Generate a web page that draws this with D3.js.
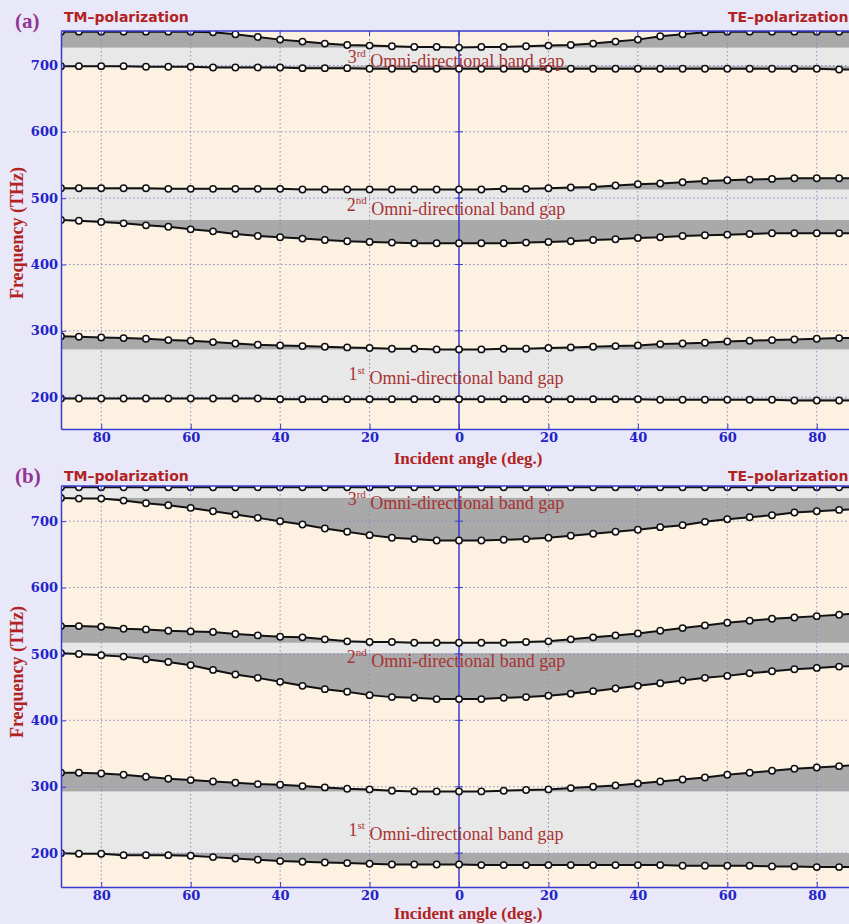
<!DOCTYPE html>
<html>
<head>
<meta charset="utf-8">
<script src="https://cdn.jsdelivr.net/npm/d3@7/dist/d3.min.js"></script>
<style>
	body { margin: 0; background: #e8e8f8; }
	svg { display: block; }
</style>
</head>
<body>
<div class="chart"></div>
<script>
// incident angle, TM side negative (drawn left), TE side positive
const angles = [-89, -85, -80, -75, -70, -65, -60, -55, -50, -45, -40, -35, -30, -25, -20, -15, -10, -5, 0,
	5, 10, 15, 20, 25, 30, 35, 40, 45, 50, 55, 60, 65, 70, 75, 80, 85, 89];

const xTicks = [-80, -60, -40, -20, 0, 20, 40, 60, 80];
const yTicks = [200, 300, 400, 500, 600, 700];
const gapNames = [["1", "st"], ["2", "nd"], ["3", "rd"]];

// panel (a) band edges (THz)
const aGap1Low = [198, 198, 198, 198, 198, 198, 198, 198, 198, 198, 197, 197, 197, 197, 197, 197, 197, 197, 197,
	197, 197, 197, 197, 197, 197, 197, 197, 196, 196, 196, 196, 196, 196, 195, 195, 195, 195];
const aGap1High = [292, 291, 290, 289, 288, 286, 285, 283, 281, 279, 278, 277, 276, 275, 274, 273, 273, 272, 272,
	272, 273, 273, 274, 275, 276, 277, 278, 280, 281, 282, 284, 285, 286, 287, 288, 289, 289];
const aGap2Low = [467, 466, 464, 462, 459, 457, 453, 450, 446, 443, 441, 439, 437, 435, 434, 433, 432, 432, 432,
	432, 432, 433, 434, 435, 437, 438, 440, 441, 443, 444, 445, 446, 447, 447, 447, 447, 447];
const aGap2High = [515, 515, 515, 515, 515, 514, 514, 514, 514, 514, 514, 513, 513, 513, 513, 513, 513, 513, 513,
	513, 514, 514, 515, 516, 517, 519, 521, 522, 524, 526, 527, 528, 529, 530, 530, 530, 530];
const aGap3Low = [699, 699, 699, 699, 698, 698, 698, 697, 697, 697, 697, 696, 696, 696, 695, 695, 695, 695, 695,
	695, 695, 695, 695, 695, 695, 695, 695, 695, 695, 695, 695, 695, 695, 695, 695, 694, 694];
const aGap3High = [751, 751, 751, 751, 751, 751, 751, 750, 747, 743, 739, 736, 733, 731, 730, 729, 728, 728, 727,
	728, 728, 729, 730, 731, 733, 736, 739, 744, 747, 750, 751, 751, 751, 751, 751, 751, 751];
const aLabelFreqs = [235, 490, 713];

// panel (b) band edges (THz)
const bGap1Low = [200, 199, 199, 197, 197, 197, 196, 194, 192, 190, 188, 187, 186, 185, 184, 183, 183, 183, 183,
	182, 182, 182, 182, 182, 182, 182, 182, 182, 181, 181, 181, 181, 180, 180, 179, 179, 179];
const bGap1High = [321, 321, 320, 318, 315, 312, 310, 308, 306, 304, 303, 301, 299, 297, 296, 294, 293, 293, 293,
	293, 294, 295, 296, 298, 300, 302, 305, 308, 311, 314, 318, 321, 324, 327, 329, 331, 333];
const bGap2Low = [501, 500, 498, 496, 492, 488, 483, 476, 469, 464, 458, 452, 447, 443, 438, 435, 434, 432, 432,
	432, 434, 435, 437, 440, 444, 448, 452, 456, 460, 464, 467, 471, 474, 477, 479, 481, 482];
const bGap2High = [542, 542, 541, 538, 537, 535, 534, 533, 530, 528, 526, 525, 522, 519, 518, 518, 517, 517, 517,
	517, 517, 518, 519, 522, 525, 528, 531, 535, 539, 543, 547, 550, 553, 555, 557, 559, 561];
const bGap3Low = [735, 734, 734, 731, 727, 724, 720, 715, 710, 705, 700, 695, 689, 684, 679, 675, 673, 671, 671,
	671, 672, 673, 675, 678, 681, 684, 687, 691, 694, 699, 703, 706, 709, 713, 715, 717, 718];
const bGap3High = [751, 751, 751, 751, 751, 751, 751, 751, 751, 751, 751, 751, 751, 751, 751, 751, 751, 751, 751,
	751, 751, 751, 751, 751, 751, 751, 751, 751, 751, 751, 751, 751, 751, 751, 751, 751, 751];
const bLabelFreqs = [236, 496, 734];

const BLUE = "#3a3ad2",
	RED = "#b22222",
	PEACH = "#fdf2e2",
	LIGHTGREY = "#e8e8e8",
	DARKGREY = "#a9a9a9";

const svg = d3.select(".chart").append("svg")
	.attr("width", 849)
	.attr("height", 924);

svg.append("rect")
	.attr("width", 849)
	.attr("height", 924)
	.attr("fill", "#e8e8f8");

drawPanel({
	id: "a", top: 31, bottom: 429, yDomain: [152, 752],
	gaps: [[aGap1Low, aGap1High], [aGap2Low, aGap2High], [aGap3Low, aGap3High]],
	labelFreqs: aLabelFreqs,
	textBase: 22, letterBase: 28, xTitleBase: 464, yTitleMid: 233
});
drawPanel({
	id: "b", top: 486, bottom: 887, yDomain: [149, 753],
	gaps: [[bGap1Low, bGap1High], [bGap2Low, bGap2High], [bGap3Low, bGap3High]],
	labelFreqs: bLabelFreqs,
	textBase: 481, letterBase: 483, xTitleBase: 919, yTitleMid: 672
});

function drawPanel(p) {

	const x = d3.scaleLinear().domain([-89, 89]).range([61, 857]);
	const y = d3.scaleLinear().domain(p.yDomain).range([p.bottom, p.top]);

	const g = svg.append("g");

	g.append("clipPath")
		.attr("id", "clip-" + p.id)
		.append("rect")
		.attr("x", x(-89))
		.attr("y", p.top)
		.attr("width", x(89) - x(-89))
		.attr("height", p.bottom - p.top);

	const plot = g.append("g").attr("clip-path", "url(#clip-" + p.id + ")");

	plot.append("rect")
		.attr("x", x(-89))
		.attr("y", p.top)
		.attr("width", x(89) - x(-89))
		.attr("height", p.bottom - p.top)
		.attr("fill", PEACH);

	// gap at each angle (dark) and omni-directional gap (light)
	p.gaps.forEach(function (gap) {
		const low = gap[0], high = gap[1];
		const area = d3.area()
			.x(function (d, i) { return x(angles[i]); })
			.y0(function (d, i) { return y(low[i]); })
			.y1(function (d, i) { return y(high[i]); });
		plot.append("path")
			.datum(angles)
			.attr("d", area)
			.attr("fill", DARKGREY);

		const omniLow = d3.max(low), omniHigh = d3.min(high);
		plot.append("rect")
			.attr("x", x(-89))
			.attr("y", y(omniHigh))
			.attr("width", x(89) - x(-89))
			.attr("height", y(omniLow) - y(omniHigh))
			.attr("fill", LIGHTGREY);
	});

	// dotted grid
	plot.selectAll(".vgrid")
		.data(xTicks.filter(function (d) { return d !== 0; }))
		.enter().append("line")
		.attr("x1", function (d) { return x(d); })
		.attr("x2", function (d) { return x(d); })
		.attr("y1", p.top)
		.attr("y2", p.bottom)
		.attr("stroke", "#8a8ac8")
		.attr("stroke-width", 1)
		.attr("stroke-dasharray", "1.5,2.5");

	plot.selectAll(".hgrid")
		.data(yTicks)
		.enter().append("line")
		.attr("x1", x(-89))
		.attr("x2", x(89))
		.attr("y1", function (d) { return y(d); })
		.attr("y2", function (d) { return y(d); })
		.attr("stroke", "#8a8ac8")
		.attr("stroke-width", 1)
		.attr("stroke-dasharray", "1.5,2.5");

	// solid line at normal incidence, with cross ticks
	plot.append("line")
		.attr("x1", x(0)).attr("x2", x(0))
		.attr("y1", p.top).attr("y2", p.bottom)
		.attr("stroke", BLUE)
		.attr("stroke-width", 1.5);
	plot.selectAll(".ztick")
		.data(yTicks)
		.enter().append("line")
		.attr("x1", x(0) - 4).attr("x2", x(0) + 4)
		.attr("y1", function (d) { return y(d); })
		.attr("y2", function (d) { return y(d); })
		.attr("stroke", BLUE);

	// band edge curves
	const line = d3.line()
		.x(function (d, i) { return x(angles[i]); })
		.y(function (d) { return y(d); });

	p.gaps.forEach(function (gap) {
		gap.forEach(function (edge) {
			plot.append("path")
				.datum(edge)
				.attr("d", line)
				.attr("fill", "none")
				.attr("stroke", "#111")
				.attr("stroke-width", 2);
			plot.selectAll(null)
				.data(edge)
				.enter().append("circle")
				.attr("cx", function (d, i) { return x(angles[i]); })
				.attr("cy", function (d) { return y(d); })
				.attr("r", 3.2)
				.attr("fill", "#fff")
				.attr("stroke", "#111")
				.attr("stroke-width", 1.5);
		});
	});

	// top border with ticks
	g.append("line")
		.attr("x1", x(-89)).attr("x2", x(89))
		.attr("y1", p.top).attr("y2", p.top)
		.attr("stroke", BLUE)
		.attr("stroke-width", 1.5);
	g.selectAll(".ttick")
		.data(xTicks)
		.enter().append("line")
		.attr("x1", function (d) { return x(d); })
		.attr("x2", function (d) { return x(d); })
		.attr("y1", p.top).attr("y2", p.top + 5)
		.attr("stroke", BLUE);

	const xAxis = d3.axisBottom(x)
		.tickValues(xTicks)
		.tickFormat(function (d) { return Math.abs(d); })
		.tickSizeInner(-5)
		.tickSizeOuter(0)
		.tickPadding(4);
	const xg = g.append("g")
		.attr("transform", "translate(0," + p.bottom + ")")
		.call(xAxis)
		.attr("font-family", "DejaVu Serif")
		.attr("font-size", 13)
		.attr("font-weight", "bold");
	xg.select(".domain").attr("stroke", BLUE).attr("stroke-width", 1.5);
	xg.selectAll("line").attr("stroke", BLUE);
	xg.selectAll("text").attr("fill", "#2323c8");

	const yAxis = d3.axisLeft(y)
		.tickValues(yTicks)
		.tickSizeInner(-5)
		.tickSizeOuter(0)
		.tickPadding(3);
	const yg = g.append("g")
		.attr("transform", "translate(" + x(-89) + ",0)")
		.call(yAxis)
		.attr("font-family", "DejaVu Serif")
		.attr("font-size", 13)
		.attr("font-weight", "bold");
	yg.select(".domain").attr("stroke", BLUE).attr("stroke-width", 1.5);
	yg.selectAll("line").attr("stroke", BLUE);
	yg.selectAll("text").attr("fill", "#2323c8");

	// omni-directional gap labels
	p.labelFreqs.forEach(function (f, i) {
		const t = g.append("text")
			.attr("x", 456)
			.attr("y", y(f))
			.attr("dy", "0.35em")
			.attr("text-anchor", "middle")
			.attr("font-family", "Liberation Serif")
			.attr("font-size", 18)
			.attr("fill", "#a83232");
		t.append("tspan").text(gapNames[i][0]);
		t.append("tspan")
			.attr("font-size", 11)
			.attr("dy", "-0.6em")
			.text(gapNames[i][1]);
		t.append("tspan")
			.attr("dy", "0.6em")
			.text(" Omni-directional band gap");
	});

	// titles
	g.append("text")
		.attr("x", 15)
		.attr("y", p.letterBase)
		.attr("font-family", "Liberation Serif")
		.attr("font-weight", "bold")
		.attr("font-size", 21)
		.attr("fill", "#943494")
		.text("(" + p.id + ")");

	g.append("text")
		.attr("x", 64)
		.attr("y", p.textBase)
		.attr("font-family", "DejaVu Sans")
		.attr("font-weight", "bold")
		.attr("font-size", 14)
		.attr("fill", RED)
		.text("TM\u2013polarization");

	g.append("text")
		.attr("x", 728)
		.attr("y", p.textBase)
		.attr("font-family", "DejaVu Sans")
		.attr("font-weight", "bold")
		.attr("font-size", 14)
		.attr("fill", RED)
		.text("TE\u2013polarization");

	g.append("text")
		.attr("x", 468)
		.attr("y", p.xTitleBase)
		.attr("text-anchor", "middle")
		.attr("font-family", "Liberation Serif")
		.attr("font-weight", "bold")
		.attr("font-size", 17)
		.attr("fill", RED)
		.text("Incident angle (deg.)");

	g.append("text")
		.attr("transform", "translate(23," + p.yTitleMid + ") rotate(-90)")
		.attr("text-anchor", "middle")
		.attr("font-family", "Liberation Serif")
		.attr("font-weight", "bold")
		.attr("font-size", 18)
		.attr("fill", RED)
		.text("Frequency (THz)");
}
</script>
</body>
</html>
